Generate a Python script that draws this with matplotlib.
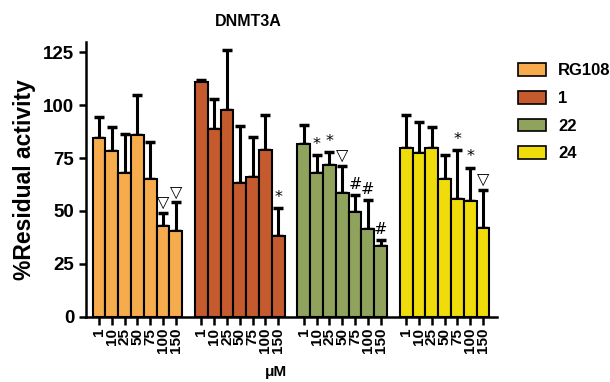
import numpy as np
import matplotlib
matplotlib.use("Agg")
import matplotlib.pyplot as plt
from matplotlib.patches import Patch

plt.rcParams['font.family'] = ['Liberation Sans', 'DejaVu Sans']
plt.rcParams['font.weight'] = 'bold'

compounds = ["RG108", "1", "22", "24"]
doses = ["1", "10", "25", "50", "75", "100", "150"]
colors = ["#F6AC4C", "#C65A2F", "#8FA35C", "#F0DC0A"]

# mean residual activity (%) per compound, one value per dose
rg108 = [84.6, 78.1, 68.1, 86.0, 65.2, 42.9, 40.7]
cmp1 = [110.9, 88.8, 97.8, 63.1, 66.1, 78.9, 38.3]
cmp22 = [81.6, 67.9, 71.8, 58.4, 49.4, 41.5, 33.5]
cmp24 = [79.7, 77.3, 79.7, 65.2, 55.6, 54.9, 42.1]

# upper error (SD)
rg108_err = [9.6, 11.5, 18.2, 18.6, 17.3, 6.0, 13.3]
cmp1_err = [0.8, 14.1, 28.4, 27.1, 18.6, 16.6, 13.0]
cmp22_err = [8.8, 8.6, 6.0, 12.9, 7.9, 13.7, 2.8]
cmp24_err = [15.8, 14.5, 9.9, 11.0, 23.0, 15.6, 17.9]

# significance marks: (compound index, dose index, symbol)
marks = [(0, 5, "▽"), (0, 6, "▽"), (1, 6, "*"),
         (2, 1, "*"), (2, 2, "*"), (2, 3, "▽"), (2, 4, "#"), (2, 5, "#"), (2, 6, "#"),
         (3, 4, "*"), (3, 5, "*"), (3, 6, "▽")]

values = [rg108, cmp1, cmp22, cmp24]
errors = [rg108_err, cmp1_err, cmp22_err, cmp24_err]

fig = plt.figure(figsize=(6.10, 3.82), dpi=100)
ax = fig.add_axes([0.141, 0.171, 0.674, 0.72])

positions = []
labels = []
for g in range(len(compounds)):
    x = np.arange(len(doses)) + g * 8
    ax.bar(x, values[g], width=1.0, color=colors[g], edgecolor="black", linewidth=1.5, zorder=2)
    ax.errorbar(x, values[g], yerr=[np.zeros(len(doses)), errors[g]], fmt="none",
                ecolor="black", elinewidth=2.2, capsize=3.5, capthick=2.5, zorder=1)
    positions.extend(x)
    labels.extend(doses)

for g, i, sym in marks:
    top = values[g][i] + errors[g][i]
    ax.text(g * 8 + i, top + 1.5, sym, ha="center", va="bottom", fontsize=11.5,
            fontweight="normal", family=["DejaVu Sans"])

ax.set_xlim(-1.02, 31.1)
ax.set_ylim(0, 130)
ax.set_yticks([0, 25, 50, 75, 100, 125])
ax.set_xticks(positions)
ax.set_xticklabels(labels, rotation=90, fontsize=11, fontweight="bold")
ax.tick_params(axis="x", length=6, width=1.8, pad=2)
ax.tick_params(axis="y", length=5, width=1.8, labelsize=13.5)
for lab in ax.get_yticklabels():
    lab.set_fontweight("bold")
for s in ["top", "right"]:
    ax.spines[s].set_visible(False)
for s in ["left", "bottom"]:
    ax.spines[s].set_linewidth(1.8)

ax.set_ylabel("%Residual activity", fontsize=16.5, fontweight="bold", labelpad=5)
fig.text(0.407, 0.944, "DNMT3A", ha="center", va="center", fontsize=11.5, fontweight="bold")
fig.text(0.453, 0.027, "μM", ha="center", va="center", fontsize=11, fontweight="bold")

handles = [Patch(facecolor=c, edgecolor="black", linewidth=1.2) for c in colors]
fig.legend(handles, compounds, loc="upper left", bbox_to_anchor=(0.83, 0.865), frameon=False,
           prop={"weight": "bold", "size": 12}, handlelength=1.7, handleheight=0.8,
           labelspacing=0.75, handletextpad=0.7, borderpad=0.2)

fig.savefig("out.png", dpi=100)
